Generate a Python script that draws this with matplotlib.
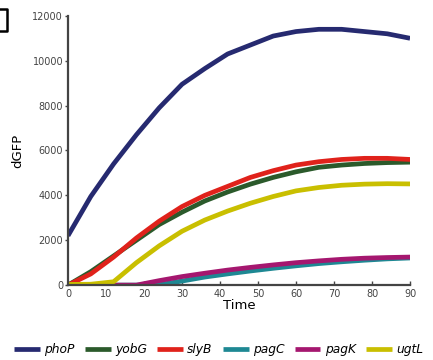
import numpy as np
import matplotlib
matplotlib.use("Agg")
import matplotlib.pyplot as plt
from matplotlib.lines import Line2D

# time points (min)
time = [0, 6, 12, 18, 24, 30, 36, 42, 48, 54, 60, 66, 72, 78, 84, 90]

phoP = [2200, 3950, 5400, 6700, 7900, 8950, 9650, 10300, 10700, 11100, 11300, 11400, 11400, 11300, 11200, 11000]
yobG = [0, 600, 1300, 2000, 2700, 3250, 3750, 4150, 4500, 4800, 5050, 5250, 5350, 5420, 5460, 5480]
slyB = [0, 500, 1250, 2100, 2850, 3500, 4000, 4400, 4800, 5100, 5350, 5500, 5600, 5650, 5650, 5600]
pagC = [0, 0, 0, 0, 20, 180, 360, 500, 630, 750, 860, 960, 1040, 1110, 1170, 1210]
pagK = [0, 0, 0, 0, 200, 380, 530, 670, 790, 900, 1000, 1080, 1150, 1200, 1230, 1250]
ugtL = [30, 40, 150, 1000, 1750, 2400, 2900, 3300, 3650, 3950, 4200, 4350, 4450, 4500, 4520, 4510]

names = ['phoP', 'yobG', 'slyB', 'pagC', 'pagK', 'ugtL']
series = [phoP, yobG, slyB, pagC, pagK, ugtL]
colors = ['#262a70', '#2b5a2b', '#e0221b', '#1e8893', '#a5176f', '#c9bf00']

fig = plt.figure(figsize=(4.33, 3.6), dpi=100)
ax = fig.add_axes([0.157, 0.208, 0.79, 0.748])

for name, vals, c in zip(names, series, colors):
    ax.plot(time, vals, color=c, lw=3.4, label=name, solid_capstyle='butt')

ax.set_xlim(0, 90)
ax.set_ylim(0, 12000)
ax.set_xticks(np.arange(0, 91, 10))
ax.set_yticks(np.arange(0, 12001, 2000))
for s in ['top', 'right']:
    ax.spines[s].set_visible(False)
for s in ['left', 'bottom']:
    ax.spines[s].set_color('#444444')
    ax.spines[s].set_linewidth(1.6)
ax.tick_params(axis='x', direction='in', length=3, width=1, color='#444444',
               labelsize=7, labelcolor='#444444', pad=3)
ax.tick_params(axis='y', direction='out', length=2.5, width=1, color='#444444',
               labelsize=7, labelcolor='#444444', pad=1)

ax.set_xlabel('Time', fontsize=9.5, labelpad=0)
ax.set_ylabel('dGFP', fontsize=9.5, labelpad=6)

leg = fig.legend(loc='lower center', bbox_to_anchor=(0.505, -0.01), ncol=6,
                 frameon=False, handlelength=2.1, handletextpad=0.35,
                 columnspacing=0.85, borderaxespad=0.2,
                 prop={'style': 'italic', 'size': 8.8})
for line in leg.get_lines():
    line.set_linewidth(3.4)

# fragment of neighbouring panel at the left edge
fig.add_artist(Line2D([0.0, 0.016, 0.016, 0.0], [0.975, 0.975, 0.915, 0.915],
                      transform=fig.transFigure, color='black', lw=1.8))

fig.savefig('out.png', dpi=100)
